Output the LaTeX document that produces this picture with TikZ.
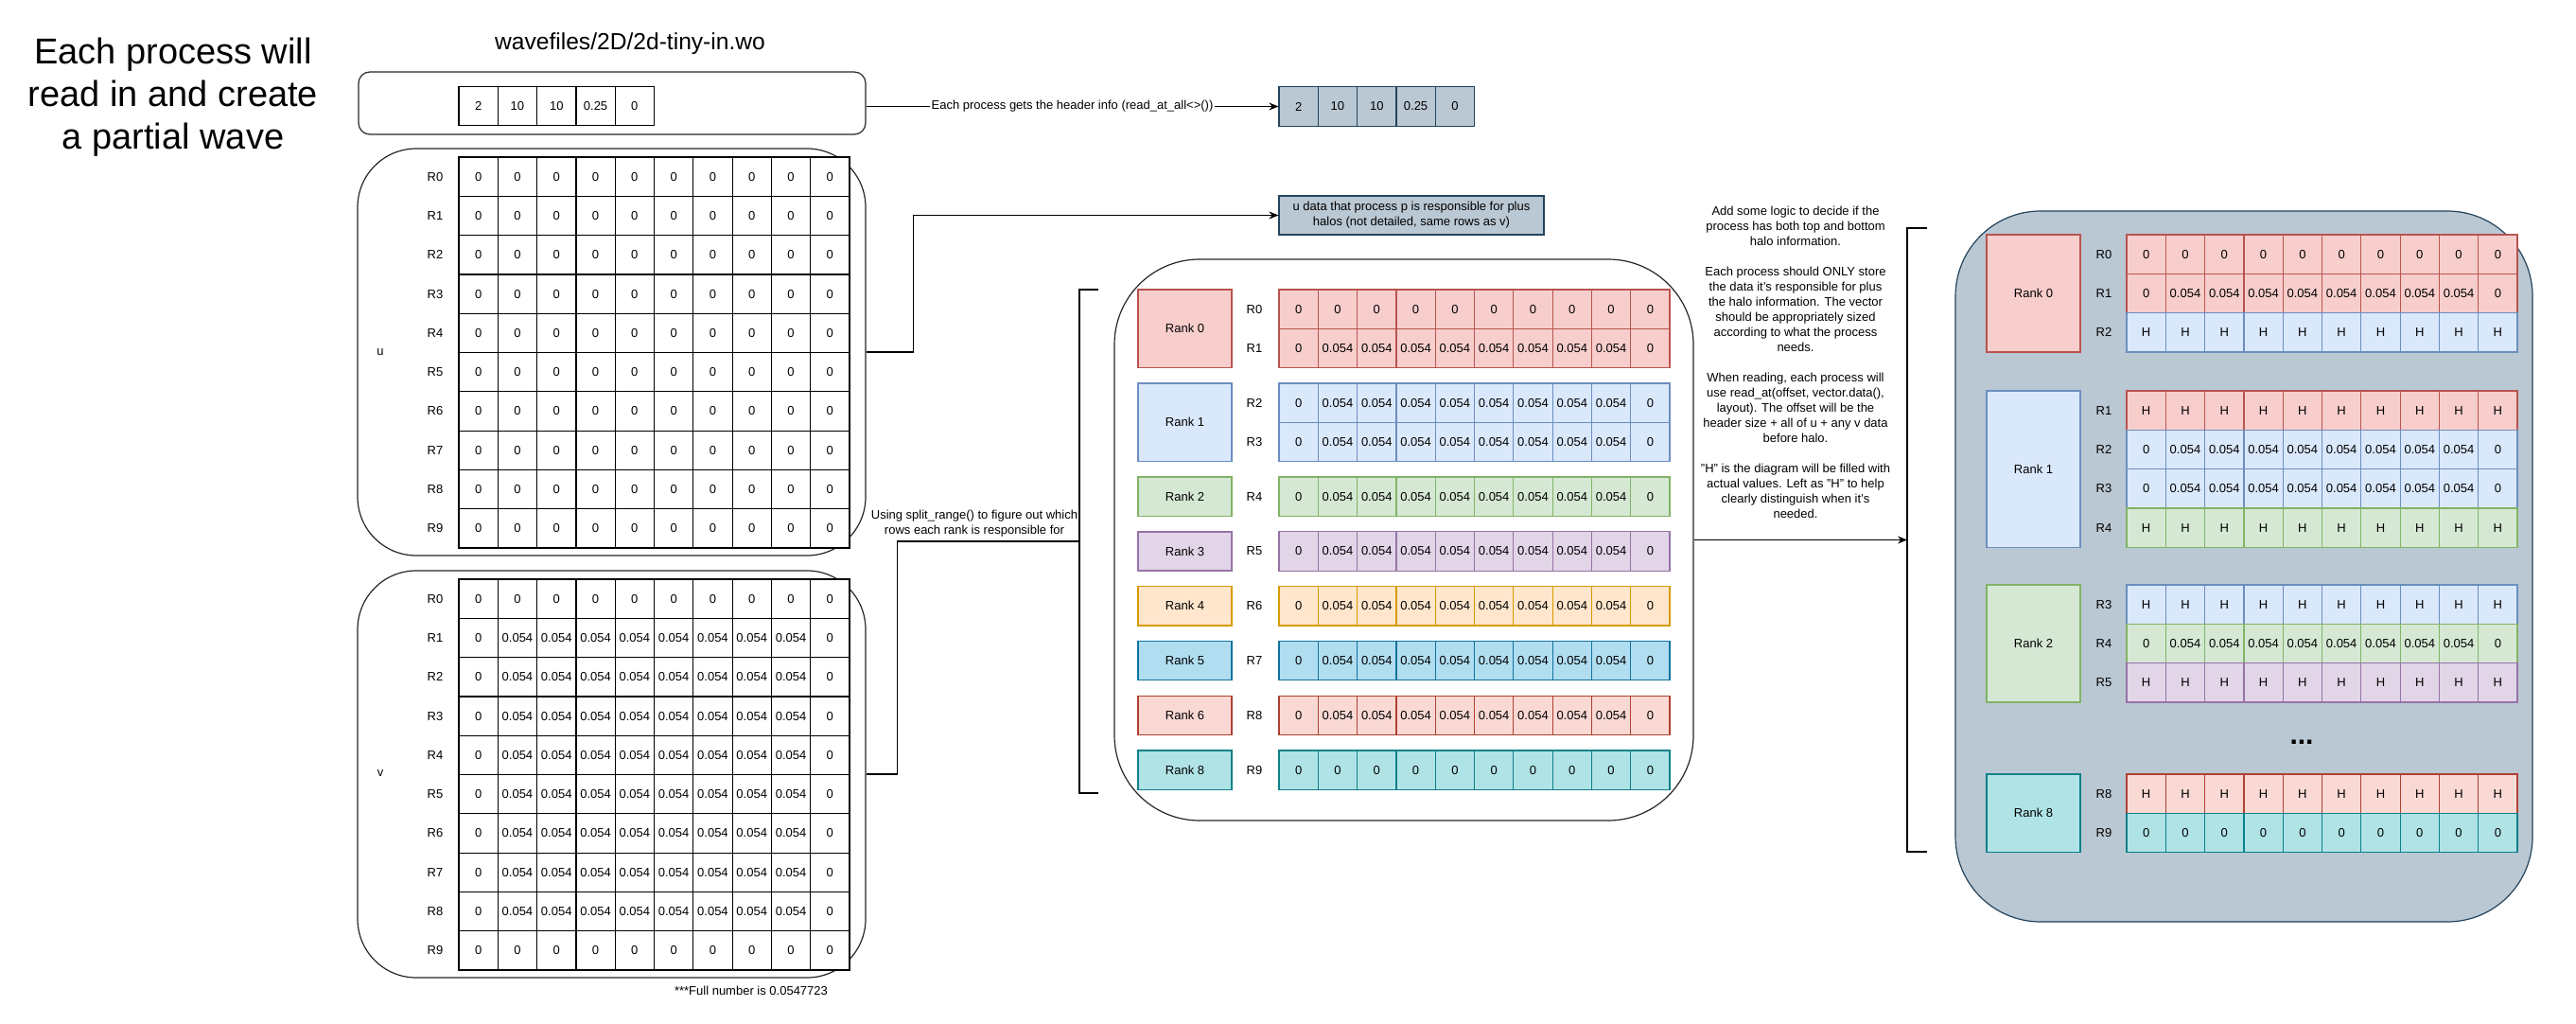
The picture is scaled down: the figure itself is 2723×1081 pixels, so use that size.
\documentclass[tikz,border=0pt]{standalone}
\usepackage{fontspec}
\setmainfont{Liberation Sans}
\usepackage{tikz}
\usetikzlibrary{arrows.meta}

\definecolor{pinkF}{HTML}{F8CECC}\definecolor{pinkD}{HTML}{B85450}
\definecolor{blueF}{HTML}{DAE8FC}\definecolor{blueD}{HTML}{6C8EBF}
\definecolor{greenF}{HTML}{D5E8D4}\definecolor{greenD}{HTML}{82B366}
\definecolor{lilacF}{HTML}{E1D5E7}\definecolor{lilacD}{HTML}{9673A6}
\definecolor{peachF}{HTML}{FFE6CC}\definecolor{peachD}{HTML}{D79B00}
\definecolor{skyF}{HTML}{B1DDF0}\definecolor{skyD}{HTML}{10739E}
\definecolor{roseF}{HTML}{FAD9D5}\definecolor{roseD}{HTML}{AE4132}
\definecolor{tealF}{HTML}{B0E3E6}\definecolor{tealD}{HTML}{0E8088}
\definecolor{slateF}{HTML}{BAC8D3}\definecolor{slateD}{HTML}{23445D}

\newcommand{\cellfont}{\fontsize{6.5}{8}\selectfont}
\newcommand{\titlefont}{\fontsize{19}{22.5}\selectfont}
\newcommand{\zrow}{0,0,0,0,0,0,0,0,0,0}
\newcommand{\vrow}{0,0.054,0.054,0.054,0.054,0.054,0.054,0.054,0.054,0}
\newcommand{\hrow}{H,H,H,H,H,H,H,H,H,H}
% ten cells in a row: name, left, top, colour style, values
\newcommand{\cellrow}[5]{%
  \foreach \val [count=\col from 0] in #5 {%
    \node [cell,#4] (#1-\col) at ({#2+41.3*\col+20.65},{#3+20.65}) {\val};
  }%
}

\tikzset{
  cell/.style={draw, rectangle, inner sep=0pt, minimum width=20.65pt, minimum height=20.65pt, font=\cellfont, line width=0.6pt},
  plaincell/.style={fill=white, draw=black},
  pinkcell/.style={fill=pinkF, draw=pinkD},
  bluecell/.style={fill=blueF, draw=blueD},
  greencell/.style={fill=greenF, draw=greenD},
  lilaccell/.style={fill=lilacF, draw=lilacD},
  peachcell/.style={fill=peachF, draw=peachD},
  skycell/.style={fill=skyF, draw=skyD},
  rosecell/.style={fill=roseF, draw=roseD},
  tealcell/.style={fill=tealF, draw=tealD},
  slatecell/.style={fill=slateF, draw=slateD},
  rankbox/.style={draw, rectangle, inner sep=0pt, minimum width=49.5pt, font=\cellfont, line width=0.7pt},
  rlabel/.style={inner sep=0.75pt, font=\cellfont},
  frame/.style={draw=black!85, rectangle, inner sep=0pt, line width=0.6pt},
  arr/.style={-{Stealth[length=5pt,width=4pt]}},
}

\begin{document}
\begin{tikzpicture}[x=0.5pt,y=0.5pt,yscale=-1,xscale=1]
\useasboundingbox (0,0) rectangle (2723,1081);
% Text Node
\draw (183,103) node [align=center, font=\titlefont] [inner sep=0.75pt] (title) {Each process will\\read in and create\\a partial wave};
% Text Node
\draw (666,46) node [font=\fontsize{12.3}{14}\selectfont] [inner sep=0.75pt] (fname) {wavefiles/2D/2d-tiny-in.wo};

%Rounded Rect: header
\node [frame, rounded corners=6pt, minimum width=268pt, minimum height=33pt] (hdr) at (647,109) {};
\foreach \val [count=\col from 0] in {2,10,10,0.25,0}
  \node [cell,plaincell] (hd-\col) at ({485+41.3*\col+20.65},112) {\val};
%Shape: header copy
\foreach \val [count=\col from 0] in {2,10,10,0.25,0}
  \node [cell,slatecell] (hc-\col) at ({1352+41.3*\col+20.65},112.5) {\val};
\draw [arr, line width=0.6pt] (hdr.east |- hc-0.west) -- (hc-0.west) node [midway, fill=white, font=\cellfont, inner sep=0.75pt] (hdrlbl) {Each process gets the header info (read\_at\_all<>())};

%Rounded Rect: u
\node [frame, rounded corners=31pt, minimum width=268.5pt, minimum height=215pt] (ubox) at (646.5,372) {};
\draw (402,372) node [rlabel] (ulab) {u};
\foreach \r in {0,...,9} {
  \cellrow{u\r}{485}{166+41.3*\r}{plaincell}{\zrow}
  \draw (460,186.65+41.3*\r) node [rlabel] (ur\r) {R\r};
}

%Rounded Rect: v
\node [frame, rounded corners=31pt, minimum width=268.5pt, minimum height=215pt] (vbox) at (646.5,818) {};
\draw (402,817) node [rlabel] (vlab) {v};
\cellrow{v0}{485}{612}{plaincell}{\zrow}
\foreach \r in {1,...,8} {
  \cellrow{v\r}{485}{612+41.3*\r}{plaincell}{\vrow}
}
\cellrow{v9}{485}{983.7}{plaincell}{\zrow}
\foreach \r in {0,...,9}
  \draw (460,632.65+41.3*\r) node [rlabel] (vr\r) {R\r};
% Text Node
\draw (794,1047) node [rlabel] (full) {***Full number is 0.0547723};

%Shape: u data
\node [slatecell, draw, line width=0.6pt, minimum width=140pt, minimum height=20.5pt, align=center, font=\cellfont, inner sep=0pt] (udata) at (1492,227.5) {u data that process p is responsible for plus\\halos (not detailed, same rows as v)};
\draw [arr, line width=0.6pt] (ubox.east) -- ++(50,0) |- (udata.west);

%Straight Lines: left bracket
\coordinate (lbrk) at (1141,572);
\draw [line width=0.6pt] (1161,306) -- (1141,306) -- (1141,838) -- (1161,838);
\draw [line width=0.6pt] (vbox.east) -- ++(33,0) |- (lbrk);
% Text Node
\draw (1030,553) node [align=center, font=\cellfont] [inner sep=0.75pt] (split) {Using split\_range() to figure out which\\rows each rank is responsible for};

%Rounded Rect: ranks
\node [frame, rounded corners=45pt, minimum width=306pt, minimum height=296.5pt] (mbox) at (1484,570.5) {};
\node [rankbox, pinkcell, minimum height=41.3pt] (mrk0) at (1252.5,347.3) {Rank 0};
\node [rankbox, bluecell, minimum height=41.3pt] (mrk1) at (1252.5,446.3) {Rank 1};
\node [rankbox, greencell, minimum height=20.65pt] (mrk2) at (1252.5,524.65) {Rank 2};
\node [rankbox, lilaccell, minimum height=20.65pt] (mrk3) at (1252.5,582.45) {Rank 3};
\node [rankbox, peachcell, minimum height=20.65pt] (mrk4) at (1252.5,640.25) {Rank 4};
\node [rankbox, skycell, minimum height=20.65pt] (mrk5) at (1252.5,698.05) {Rank 5};
\node [rankbox, rosecell, minimum height=20.65pt] (mrk6) at (1252.5,755.85) {Rank 6};
\node [rankbox, tealcell, minimum height=20.65pt] (mrk8) at (1252.5,813.65) {Rank 8};
\cellrow{m0}{1352}{306}{pinkcell}{\zrow}
\cellrow{m1}{1352}{347.3}{pinkcell}{\vrow}
\cellrow{m2}{1352}{405}{bluecell}{\vrow}
\cellrow{m3}{1352}{446.3}{bluecell}{\vrow}
\cellrow{m4}{1352}{504}{greencell}{\vrow}
\cellrow{m5}{1352}{561.8}{lilaccell}{\vrow}
\cellrow{m6}{1352}{619.6}{peachcell}{\vrow}
\cellrow{m7}{1352}{677.4}{skycell}{\vrow}
\cellrow{m8}{1352}{735.2}{rosecell}{\vrow}
\cellrow{m9}{1352}{793}{tealcell}{\zrow}
\foreach \y [count=\n from 0] in {326.65,367.95,425.65,466.95,524.65,582.45,640.25,698.05,755.85,813.65}
  \draw (1326,\y) node [rlabel] (mr\n) {R\n};

% Text Node
\draw (1898,383) node [align=center, font=\cellfont] [inner sep=0.75pt] (note) {Add some logic to decide if the\\process has both top and bottom\\halo information.\\[8pt]Each process should ONLY store\\the data it's responsible for plus\\the halo information. The vector\\should be appropriately sized\\according to what the process\\needs.\\[8pt]When reading, each process will\\use read\_at(offset, vector.data(),\\layout). The offset will be the\\header size + all of u + any v data\\before halo.\\[8pt]"H" is the diagram will be filled with\\actual values. Left as "H" to help\\clearly distinguish when it's\\needed.};

%Straight Lines: right bracket
\coordinate (rbrk) at (2016,570.5);
\draw [line width=0.6pt] (2037,241) -- (2016,241) -- (2016,900) -- (2037,900);
\draw [arr, line width=0.6pt] (mbox.east) -- (rbrk);

%Rounded Rect: local vectors
\node [frame, slatecell, rounded corners=45pt, minimum width=305pt, minimum height=375.5pt] (rbox) at (2372,598.5) {};
\node [rankbox, pinkcell, minimum height=61.95pt] (rk0) at (2149.5,310) {Rank 0};
\node [rankbox, bluecell, minimum height=82.6pt] (rk1) at (2149.5,495.6) {Rank 1};
\node [rankbox, greencell, minimum height=61.95pt] (rk2) at (2149.5,679.95) {Rank 2};
\node [rankbox, tealcell, minimum height=41.3pt] (rk8) at (2149.5,859.3) {Rank 8};
\cellrow{q0}{2248}{248}{pinkcell}{\zrow}
\cellrow{q1}{2248}{289.3}{pinkcell}{\vrow}
\cellrow{q2}{2248}{330.6}{bluecell}{\hrow}
\cellrow{q3}{2248}{413}{pinkcell}{\hrow}
\cellrow{q4}{2248}{454.3}{bluecell}{\vrow}
\cellrow{q5}{2248}{495.6}{bluecell}{\vrow}
\cellrow{q6}{2248}{536.9}{greencell}{\hrow}
\cellrow{q7}{2248}{618}{bluecell}{\hrow}
\cellrow{q8}{2248}{659.3}{greencell}{\vrow}
\cellrow{q9}{2248}{700.6}{lilaccell}{\hrow}
\cellrow{q10}{2248}{818}{rosecell}{\hrow}
\cellrow{q11}{2248}{859.3}{tealcell}{\zrow}
\foreach \y/\t [count=\n] in {268.65/R0,309.95/R1,351.25/R2,433.65/R1,474.95/R2,516.25/R3,557.55/R4,638.65/R3,679.95/R4,721.25/R5,838.65/R8,879.95/R9}
  \draw (2224,\y) node [rlabel] (qr\n) {\t};
% Text Node
\draw (2433,784) node [font=\bfseries\fontsize{15}{18}\selectfont] [inner sep=0.75pt] (dots) {...};
\end{tikzpicture}
\end{document}
